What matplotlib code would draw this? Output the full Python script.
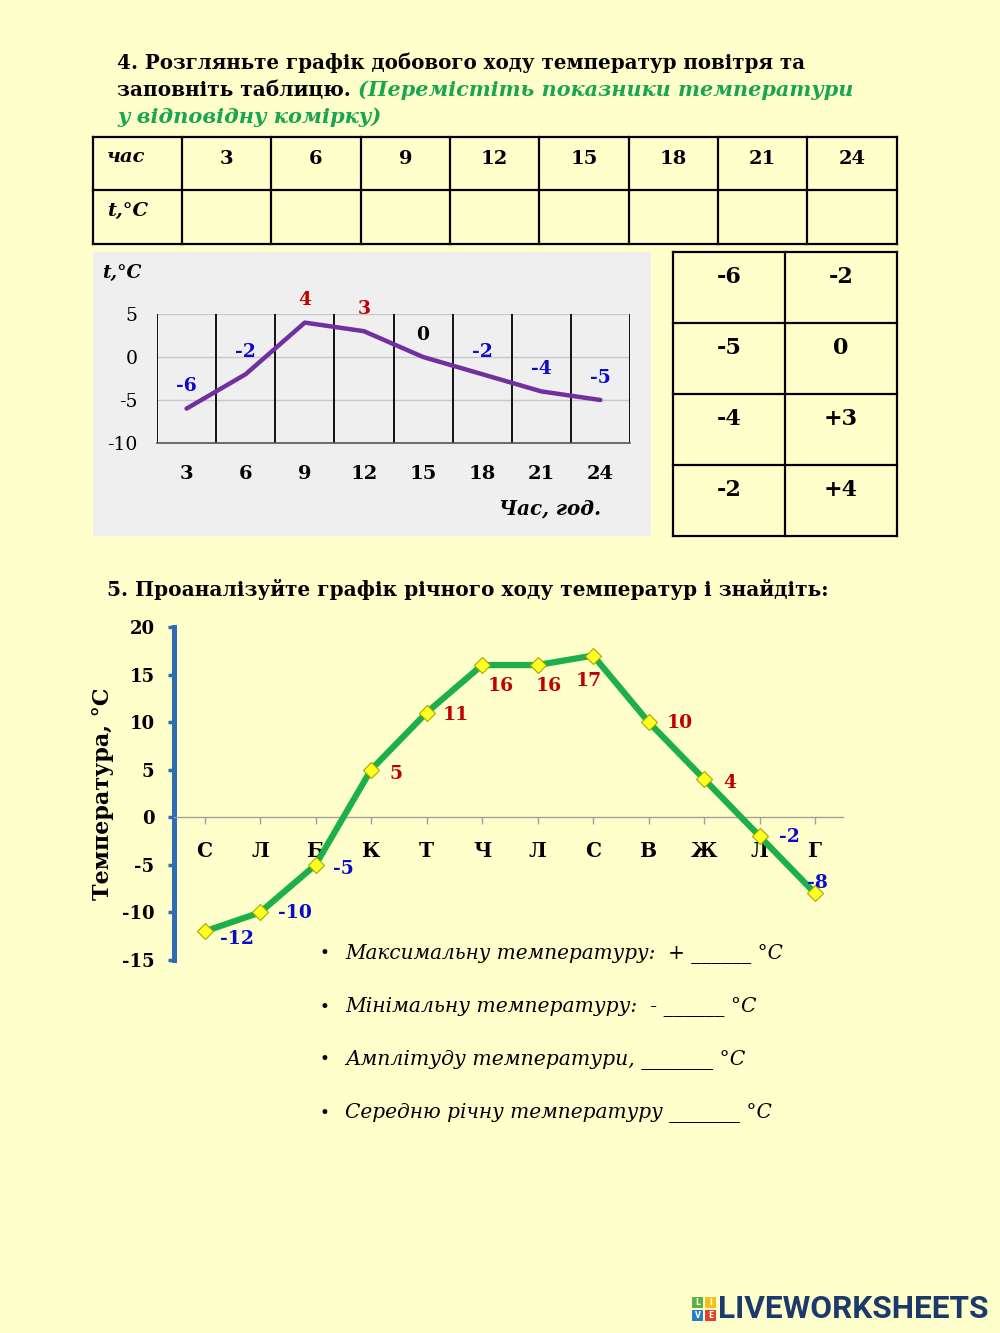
import matplotlib
matplotlib.use("Agg")
import matplotlib.pyplot as plt
from matplotlib.patches import Rectangle

# ---------------- data ----------------
hours = [3, 6, 9, 12, 15, 18, 21, 24]
day_temps = [-6, -2, 4, 3, 0, -2, -4, -5]
day_yticks = [5, 0, -5, -10]

months = ["С", "Л", "Б", "К", "Т", "Ч", "Л", "С", "В", "Ж", "Л", "Г"]
year_temps = [-12, -10, -5, 5, 11, 16, 16, 17, 10, 4, -2, -8]
year_yticks = [20, 15, 10, 5, 0, -5, -10, -15]

choice_left = ["-6", "-5", "-4", "-2"]
choice_right = ["-2", "0", "+3", "+4"]

title1 = "4. Розгляньте графік добового ходу температур повітря та"
title2a = "заповніть таблицю. "
title2b = "(Перемістіть показники температури"
title3 = "у відповідну комірку)"
heading5 = "5. Проаналізуйте графік річного ходу температур і знайдіть:"
bullets = ["Максимальну температуру:  + ______ °C",
           "Мінімальну температуру:  - ______ °C",
           "Амплітуду температури, _______ °C",
           "Середню річну температуру _______ °C"]
bullet_widths = [438, 411, 399, 426]

# label offsets (pixels) for the yearly chart labels
year_lbl_dx = [32, 35, 28, 25, 29, 19, 11, -4, 31, 26, 30, 2]
year_lbl_dy = [-8, -1, -4, -4, -2, -21, -21, -25, -1, -4, -1, 10]

BG = "#FFFFCC"
SERIF = ["DejaVu Serif"]
NUMF = ["DejaVu Serif"]
BLUE = "#0A0ACC"
RED = "#C00000"
GREEN_TXT = "#1AA650"

fig = plt.figure(figsize=(10, 13.33), dpi=100)
fig.patch.set_facecolor(BG)
renderer = fig.canvas.get_renderer()

bg = fig.add_axes([0, 0, 1, 1])
bg.set_xlim(0, 1000)
bg.set_ylim(1333, 0)
bg.axis("off")
bg.set_facecolor(BG)


def fit_text(x, y, s, target_w, **kw):
    t = bg.text(x, y, s, fontsize=10, **kw)
    w = t.get_window_extent(renderer).width
    t.set_fontsize(10 * target_w / w)
    return t


# ---------- title ----------
fit_text(117, 63, title1, 691, family=SERIF, weight="bold", va="center", ha="left")
t2 = fit_text(117, 90, title2a, 241, family=SERIF, weight="bold", va="center", ha="left")
x_end = t2.get_window_extent(renderer).x1
fit_text(x_end, 90, title2b, 852 - x_end, family=SERIF, weight="bold", style="italic",
         va="center", ha="left", color=GREEN_TXT)
fit_text(117, 117, title3, 264, family=SERIF, weight="bold", style="italic",
         va="center", ha="left", color=GREEN_TXT)

# ---------- table 1 ----------
col_x = [93, 182, 271, 361, 450, 539, 629, 718, 807, 897]
row_y = [137, 190, 244]
for x in col_x:
    bg.plot([x, x], [row_y[0], row_y[-1]], color="black", lw=1.6, solid_capstyle="projecting")
for y in row_y:
    bg.plot([col_x[0], col_x[-1]], [y, y], color="black", lw=1.6, solid_capstyle="projecting")
bg.text(107, 157, "час", family=SERIF, weight="bold", style="italic", fontsize=14, va="center")
bg.text(107, 211, "t,°C", family=SERIF, weight="bold", style="italic", fontsize=14, va="center")
for i, h in enumerate(hours):
    cx = (col_x[i + 1] + col_x[i + 2]) / 2
    bg.text(cx, 159, str(h), family=NUMF, weight="bold", fontsize=14, ha="center", va="center")

# ---------- panel for chart 1 ----------
bg.add_patch(Rectangle((93, 252), 558, 284, facecolor="#EFEFEF", edgecolor="none"))
bg.text(102, 273, "t,°C", family=SERIF, weight="bold", style="italic", fontsize=13.5, va="center")
fit_text(499, 508, "Час, год.", 102, family=SERIF, weight="bold", style="italic",
         va="center", ha="left")

# ---------- right choice table ----------
cx3 = [673, 785, 897]
ry3 = [252, 323, 394, 465, 536]
for x in cx3:
    bg.plot([x, x], [ry3[0], ry3[-1]], color="black", lw=1.6, solid_capstyle="projecting")
for y in ry3:
    bg.plot([cx3[0], cx3[-1]], [y, y], color="black", lw=1.6, solid_capstyle="projecting")
for k in range(4):
    ty = ry3[k] + 25
    bg.text((cx3[0] + cx3[1]) / 2, ty, choice_left[k], family=NUMF, weight="bold", fontsize=16,
            ha="center", va="center")
    bg.text((cx3[1] + cx3[2]) / 2, ty, choice_right[k], family=NUMF, weight="bold", fontsize=16,
            ha="center", va="center")

# ---------- heading 5 ----------
fit_text(107, 590, heading5, 721, family=SERIF, weight="bold", va="center", ha="left")

# ---------- bullets ----------
for k, b in enumerate(bullets):
    yy = 954 + 53 * k
    bg.text(320, yy, "•", family=SERIF, fontsize=12, va="center", ha="left")
    fit_text(345, yy, b, bullet_widths[k], family=SERIF, style="italic", va="center", ha="left")

# ---------- logo ----------
sq = [(692, 1297, "#5BB346", "L"), (705, 1297, "#F2C21B", "I"),
      (692, 1310, "#2A7FC1", "V"), (705, 1310, "#E0402C", "E")]
for (x, y, c, ch) in sq:
    bg.add_patch(Rectangle((x, y), 11, 11, facecolor=c, edgecolor="none"))
    bg.text(x + 5.5, y + 5.8, ch, color="white", fontsize=5.5, weight="bold",
            ha="center", va="center", family=["DejaVu Sans"])
fit_text(718, 1309, "LIVEWORKSHEETS", 270, color="#1B3A6B", weight="bold",
         family=["Roboto", "DejaVu Sans"], va="center", ha="left")

W, H = 1000.0, 1333.0


def px_axes(x0, y0, x1, y1):
    return fig.add_axes([x0 / W, 1 - y1 / H, (x1 - x0) / W, (y1 - y0) / H])


# ---------- chart 1 ----------
ax1 = px_axes(157, 314, 630, 443)
ax1.patch.set_alpha(0)
ax1.set_xlim(1.5, 25.5)
ax1.set_ylim(-10, 5)
for s in ["left", "right", "top"]:
    ax1.spines[s].set_visible(False)
ax1.spines["bottom"].set_color("#555555")
ax1.spines["bottom"].set_linewidth(1.2)
for yv in day_yticks[:-1]:
    ax1.axhline(yv, color="#C8C8C8", lw=1.0, zorder=1)
for k in range(len(hours) + 1):
    ax1.axvline(1.5 + 3 * k, color="black", lw=1.3, zorder=1)
ax1.plot(hours, day_temps, color="#7030A0", lw=3.2, zorder=3, solid_capstyle="round",
         solid_joinstyle="round")
for h, t in zip(hours, day_temps):
    c = BLUE if t < 0 else (RED if t > 0 else "black")
    ax1.annotate(str(t), (h, t), xytext=(0, 16), textcoords="offset points",
                 ha="center", va="center", color=c, weight="bold", fontsize=13.5, family=NUMF)
ax1.set_yticks(day_yticks)
ax1.set_yticklabels([str(v) for v in day_yticks], family=NUMF, fontsize=13.5)
ax1.set_xticks(hours)
ax1.set_xticklabels([str(h) for h in hours], family=NUMF, weight="bold", fontsize=14)
ax1.tick_params(axis="y", length=0, pad=14)
ax1.tick_params(axis="x", length=0, pad=16)

# ---------- chart 2 ----------
ax2 = px_axes(174, 627, 843, 960)
ax2.patch.set_alpha(0)
xs = list(range(len(months)))
ax2.set_xlim(-0.55, 11.5)
ax2.set_ylim(-15, 20)
for s in ["right", "top"]:
    ax2.spines[s].set_visible(False)
ax2.spines["left"].set_color("#2E6DB4")
ax2.spines["left"].set_linewidth(3.6)
ax2.spines["bottom"].set_position(("data", 0))
ax2.spines["bottom"].set_color("#A0A0A0")
ax2.spines["bottom"].set_linewidth(1.0)
ax2.plot(xs, year_temps, color="#1DAF4A", lw=4.5, zorder=3, solid_joinstyle="round",
         marker="D", markersize=8, markerfacecolor="#FFFF22", markeredgecolor="#A8A800",
         markeredgewidth=0.8)
for i, t in enumerate(year_temps):
    c = BLUE if t < 0 else RED
    ax2.annotate(str(t), (i, t), xytext=(year_lbl_dx[i] * 0.72, year_lbl_dy[i] * 0.72),
                 textcoords="offset points", ha="center", va="center", color=c,
                 weight="bold", fontsize=13.5, family=NUMF, zorder=4)
ax2.set_yticks(year_yticks)
ax2.set_yticklabels([str(v) for v in year_yticks], family=NUMF, weight="bold", fontsize=13)
ax2.set_xticks(xs)
ax2.set_xticklabels(months, family=NUMF, weight="bold", fontsize=14.5)
ax2.tick_params(axis="y", length=4, width=2.5, color="#2E6DB4", pad=10, direction="out")
ax2.tick_params(axis="x", length=5, width=1, color="#A0A0A0", pad=12, direction="out")
ax2.set_ylabel("Температура, °С", family=SERIF, weight="bold", fontsize=16, labelpad=6)

fig.savefig("out.png", dpi=100, facecolor=BG)
